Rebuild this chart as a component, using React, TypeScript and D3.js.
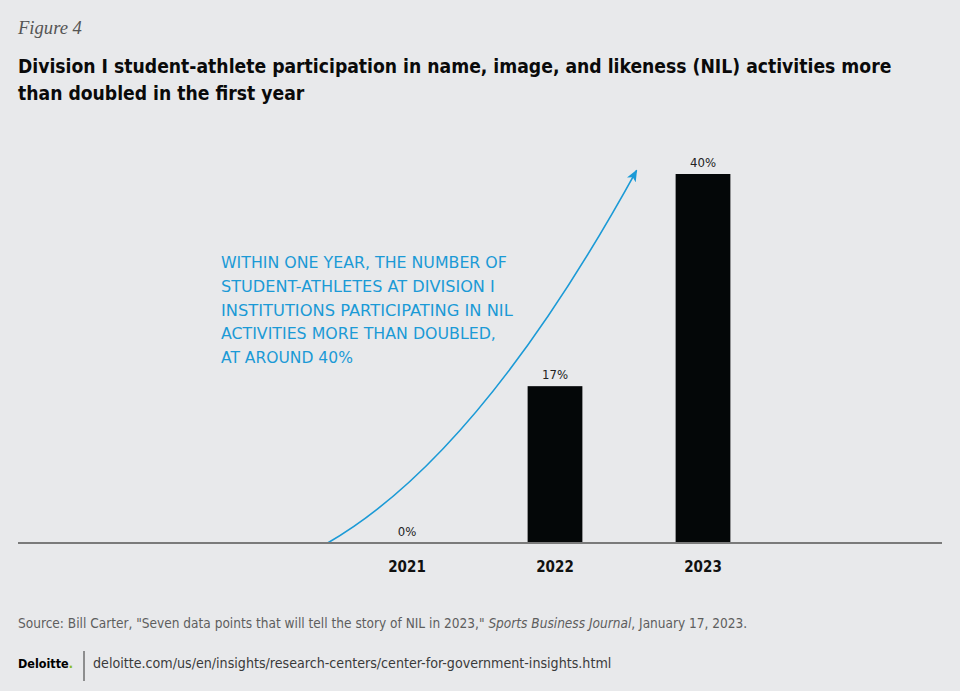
import React, { useEffect, useRef } from 'react';
import * as d3 from 'd3';

const years = ['2021', '2022', '2023'];
const shares = [0, 17, 40];
const shareLabels = ['0%', '17%', '40%'];

const titleLines = [
    'Division I student-athlete participation in name, image, and likeness (NIL) activities more',
    'than doubled in the first year',
];
const noteLines = [
    'WITHIN ONE YEAR, THE NUMBER OF',
    'STUDENT-ATHLETES AT DIVISION I',
    'INSTITUTIONS PARTICIPATING IN NIL',
    'ACTIVITIES MORE THAN DOUBLED,',
    'AT AROUND 40%',
];
const noteWidths = [286, 274, 292, 275, 132];

const W = 960;
const H = 691;
const BG = '#e8e9eb';
const BLUE = '#1b9ad6';
const NARROW = '"Liberation Sans Narrow", "DejaVu Sans Condensed", "Roboto", sans-serif';

// pick a font size so the text's natural width lands on the target
function fitWidth(sel: d3.Selection<SVGTextElement, any, any, any>, target: number, base: number) {
    sel.style('font-size', base + 'px');
    const w = (sel.node() as SVGTextElement).getComputedTextLength();
    if (w > 0) sel.style('font-size', (base * target / w).toFixed(2) + 'px');
}

const App: React.FC = () => {
    const ref = useRef<SVGSVGElement>(null);

    useEffect(() => {
        if (!ref.current) return;
        const svg = d3.select(ref.current);
        svg.selectAll('*').remove();

        svg.append('rect').attr('width', W).attr('height', H).attr('fill', BG);

        // header
        const fig = svg.append('text')
            .attr('x', 18).attr('y', 34)
            .style('font-family', '"Liberation Serif", serif')
            .style('font-style', 'italic')
            .style('fill', '#555')
            .text('Figure 4');
        fitWidth(fig, 64, 18);

        let titleSize = 19;
        svg.selectAll<SVGTextElement, string>('text.title')
            .data(titleLines)
            .enter()
            .append('text')
            .attr('class', 'title')
            .attr('x', 18)
            .attr('y', (d, i) => 73 + i * 27)
            .style('font-family', NARROW)
            .style('font-weight', 'bold')
            .style('fill', '#0a0a0a')
            .text(d => d)
            .each(function (d, i) {
                const t = d3.select(this);
                if (i === 0) {
                    fitWidth(t, 874, 19);
                    titleSize = parseFloat(t.style('font-size'));
                } else {
                    t.style('font-size', titleSize + 'px');
                }
            });

        const x = d3.scaleBand<string>()
            .domain(years)
            .range([333, 777])
            .paddingInner(0.63)
            .paddingOuter(0.315);

        const y = d3.scaleLinear()
            .domain([0, 40])
            .range([543, 174]);

        // arrow
        const defs = svg.append('defs');
        defs.append('marker')
            .attr('id', 'head')
            .attr('viewBox', '0 0 12 10')
            .attr('refX', 11)
            .attr('refY', 5)
            .attr('markerWidth', 12)
            .attr('markerHeight', 10)
            .attr('markerUnits', 'userSpaceOnUse')
            .attr('orient', 'auto')
            .append('path')
            .attr('d', 'M0,0 L12,5 L0,10 L3,5 Z')
            .attr('fill', BLUE);

        const start: [number, number] = [x(years[0])! - 52, y(0)];
        const ctrl: [number, number] = [480, 455];
        const end: [number, number] = [x(years[2])! - 39, y(40.4)];
        const p = d3.path();
        p.moveTo(start[0], start[1]);
        p.quadraticCurveTo(ctrl[0], ctrl[1], end[0], end[1]);
        svg.append('path')
            .attr('d', p.toString())
            .attr('fill', 'none')
            .attr('stroke', BLUE)
            .attr('stroke-width', 1.6)
            .attr('marker-end', 'url(#head)');

        // bars
        svg.selectAll('rect.bar')
            .data(shares)
            .enter()
            .append('rect')
            .attr('class', 'bar')
            .attr('x', (d, i) => x(years[i])!)
            .attr('y', d => y(d))
            .attr('width', x.bandwidth())
            .attr('height', d => y(0) - y(d))
            .attr('fill', '#040708');

        svg.selectAll('text.val')
            .data(shares)
            .enter()
            .append('text')
            .attr('class', 'val')
            .attr('x', (d, i) => x(years[i])! + x.bandwidth() / 2)
            .attr('y', d => y(d) - 7)
            .attr('text-anchor', 'middle')
            .style('font-family', NARROW)
            .style('font-size', '13px')
            .style('fill', '#222')
            .text((d, i) => shareLabels[i]);

        // baseline
        svg.append('line')
            .attr('x1', 18).attr('x2', 942)
            .attr('y1', y(0)).attr('y2', y(0))
            .attr('stroke', '#7a7a7a')
            .attr('stroke-width', 2);

        svg.selectAll('text.year')
            .data(years)
            .enter()
            .append('text')
            .attr('class', 'year')
            .attr('x', d => x(d)! + x.bandwidth() / 2)
            .attr('y', 572)
            .attr('text-anchor', 'middle')
            .style('font-family', NARROW)
            .style('font-weight', 'bold')
            .style('font-size', '15px')
            .style('fill', '#111')
            .text(d => d);

        // annotation
        svg.selectAll<SVGTextElement, string>('text.note')
            .data(noteLines)
            .enter()
            .append('text')
            .attr('class', 'note')
            .attr('x', 221)
            .attr('y', (d, i) => 268 + i * 23.8)
            .style('font-family', '"DejaVu Sans", sans-serif')
            .style('fill', BLUE)
            .text(d => d)
            .each(function (d, i) {
                fitWidth(d3.select(this), noteWidths[i], 13);
            });

        // source
        const src = svg.append('text')
            .attr('x', 18).attr('y', 628)
            .style('font-family', NARROW)
            .style('fill', '#5e5e5e');
        src.append('tspan').text('Source: Bill Carter, "Seven data points that will tell the story of NIL in 2023," ');
        src.append('tspan').style('font-style', 'italic').text('Sports Business Journal');
        src.append('tspan').text(', January 17, 2023.');
        fitWidth(src, 730, 14);

        // footer
        const logo = svg.append('text')
            .attr('x', 18).attr('y', 668)
            .style('font-family', NARROW)
            .style('font-weight', 'bold')
            .style('fill', '#000');
        logo.append('tspan').text('Deloitte');
        logo.append('tspan').style('fill', '#86bc25').text('.');
        fitWidth(logo, 55, 14);

        svg.append('line')
            .attr('x1', 84).attr('x2', 84)
            .attr('y1', 651).attr('y2', 681)
            .attr('stroke', '#333')
            .attr('stroke-width', 1);

        const url = svg.append('text')
            .attr('x', 93).attr('y', 668)
            .style('font-family', NARROW)
            .style('fill', '#3a3a3a')
            .text('deloitte.com/us/en/insights/research-centers/center-for-government-insights.html');
        fitWidth(url, 519, 15);
    }, []);

    return (
        <div>
            <style>{'body{margin:0;}'}</style>
            <svg ref={ref} width={W} height={H} style={{ display: 'block' }}></svg>
        </div>
    );
};

export default App;
